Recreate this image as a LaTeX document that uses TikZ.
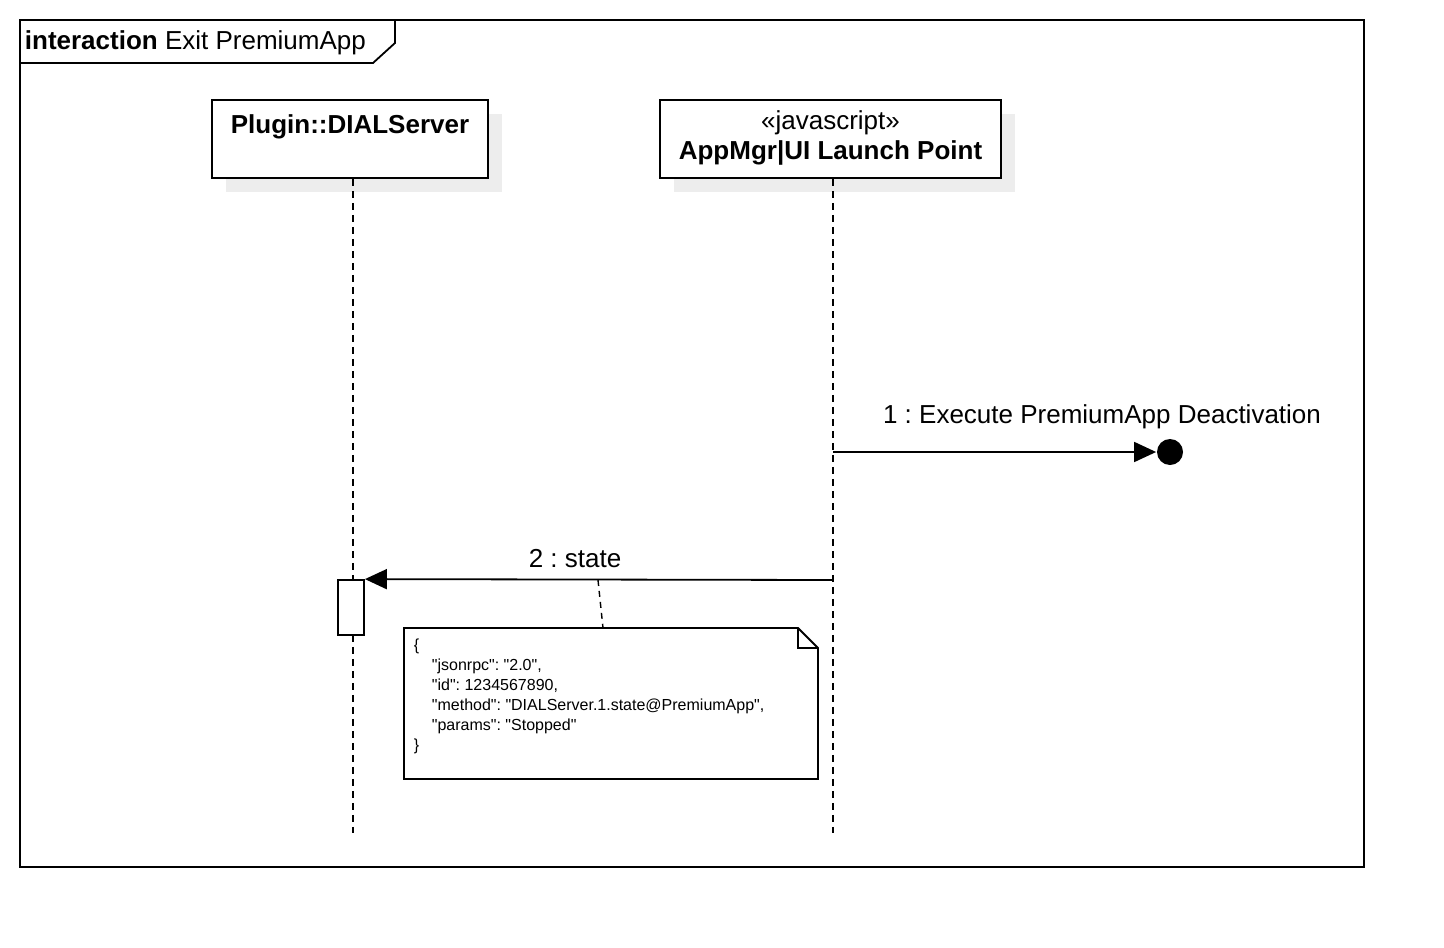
\documentclass[tikz,border=0pt]{standalone}
\usepackage{fontspec}
\setmainfont{Liberation Sans}[Ligatures=TeXOff]
\usetikzlibrary{arrows.meta,positioning,shadows}
\frenchspacing

\begin{document}
\begin{tikzpicture}[x=1pt,y=-1pt,line width=1.8pt,
                    every node/.style={font=\fontsize{26}{30}\selectfont},
                    head/.style={draw,fill=white,minimum height=78pt,
                      drop shadow={shadow xshift=14pt,shadow yshift=-14pt,
                                   fill=black!7,opacity=1}},
                    lifeline/.style={line width=1.4pt,dash pattern=on 7pt off 5pt},
                    msg/.style={-{Triangle[length=22pt,width=20pt]}},
                    lost/.style={circle,fill=black,inner sep=0pt,minimum size=26pt},
                    act/.style={draw,fill=white,minimum width=26pt,minimum height=55pt},
                    notetext/.style={font=\fontsize{16}{20}\selectfont,align=left,
                      anchor=north west,inner sep=0pt}]

  \useasboundingbox (0,0) rectangle (1444,948);

  % frame and its tab
  \draw (20,20) rectangle (1364,867);
  \draw (20,63) -- (373,63) -- (395,43) -- (395,20);
  \node[anchor=west,inner sep=0pt] (title) at (24,43) {\textbf{interaction} Exit PremiumApp};

  % lifelines
  \node[head,minimum width=276pt] (dial)   at (350,139)   {};
  \node                           (dialname) at (350,127) {\textbf{Plugin::DIALServer}};
  \node[head,minimum width=341pt] (appmgr) at (830.5,139) {};
  \node                           (stereo)  at (830.5,123) {«javascript»};
  \node                           (appname) at (830.5,153) {\textbf{AppMgr|UI Launch Point}};

  \coordinate (dialend)   at (353,833);
  \coordinate (appmgrend) at (833,833);
  \draw[lifeline] (dial.south -| dialend)     -- (dialend);
  \draw[lifeline] (appmgr.south -| appmgrend) -- (appmgrend);

  % 1 : lost message
  \coordinate (m1) at (833,452);
  \node[lost] (end1) at (1170,452) {};
  \draw[msg] (m1) -- (end1.west);
  \node (lbl1) at (1102,417) {1 : Execute PremiumApp Deactivation};

  % 2 : state
  \coordinate (m2) at (833,580);
  \node[act] (exec) at (351,607.5) {};
  \draw[msg] (m2) -- (exec.north east);
  \node (lbl2) at (575,559) {2 : state};

  % note
  \coordinate (nw) at (404,628);
  \coordinate (se) at (818,779);
  \draw[fill=white] (nw) -- (798,628) -- (818,648) -- (se) -- (404,779) -- cycle;
  \draw (798,628) -- (798,648) -- (818,648);
  \node[notetext] (json) at (413,638)
    {\{\\
     \hspace*{18pt}"jsonrpc": "2.0",\\
     \hspace*{18pt}"id": 1234567890,\\
     \hspace*{18pt}"method": "DIALServer.1.state@PremiumApp",\\
     \hspace*{18pt}"params": "Stopped"\\
     \}};
  \coordinate (anchor2) at (598,580);
  \draw[line width=1.4pt,dash pattern=on 6pt off 5pt] (anchor2) -- (603,628);
\end{tikzpicture}
\end{document}
